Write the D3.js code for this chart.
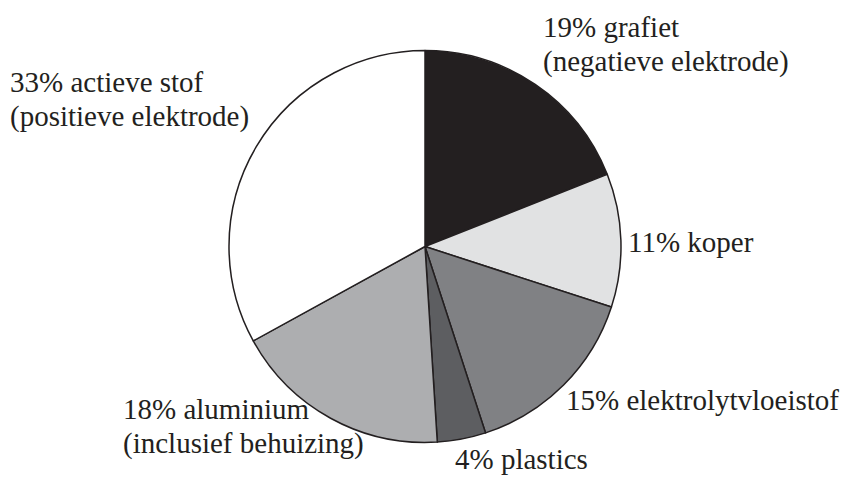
<!DOCTYPE html>
<html>
<head>
<meta charset="utf-8">
<script src="https://cdn.jsdelivr.net/npm/d3@7"></script>
<style>
  body { margin: 0; background: #fff; }
</style>
</head>
<body>
<svg id="chart" width="851" height="477"></svg>
<script>
const width = 851;
const height = 477;

// Data, clockwise from 12 o'clock
const parts = ["grafiet", "koper", "elektrolytvloeistof", "plastics", "aluminium", "actieve stof"];
const percents = [19, 11, 15, 4, 18, 33];
const labels = [
  ["19% grafiet", "(negatieve elektrode)"],
  ["11% koper"],
  ["15% elektrolytvloeistof"],
  ["4% plastics"],
  ["18% aluminium", "(inclusief behuizing)"],
  ["33% actieve stof", "(positieve elektrode)"]
];
const fills = ["#231f20", "#e1e2e3", "#808184", "#5d5e61", "#adaeb0", "#ffffff"];

const cx = 425;
const cy = 246.5;
const radius = 196;

const svg = d3.select("#chart");

const pie = d3.pie().sort(null).value((d) => d);
const arc = d3.arc().innerRadius(0).outerRadius(radius);
const arcs = pie(percents);

const g = svg.append("g").attr("transform", "translate(" + cx + "," + cy + ")");

g.selectAll("path")
  .data(arcs)
  .enter()
  .append("path")
  .attr("d", arc)
  .attr("fill", (d, i) => fills[i])
  .attr("stroke", "#231f20")
  .attr("stroke-width", 1.5)
  .attr("stroke-linejoin", "round");

// Label anchors: start x and first baseline
const labelPos = [
  [543, 37],
  [628, 252],
  [566, 410],
  [455, 469],
  [123, 419],
  [10, 92]
];
const lineGap = 34;

labels.forEach((lines, i) => {
  const t = svg.append("text")
    .attr("x", labelPos[i][0])
    .attr("y", labelPos[i][1])
    .attr("font-family", "'Liberation Serif', 'Times New Roman', Times, serif")
    .attr("font-size", 29)
    .attr("fill", "#231f20");
  lines.forEach((line, j) => {
    t.append("tspan")
      .attr("x", labelPos[i][0])
      .attr("dy", j === 0 ? 0 : lineGap)
      .text(line);
  });
});
</script>
</body>
</html>
